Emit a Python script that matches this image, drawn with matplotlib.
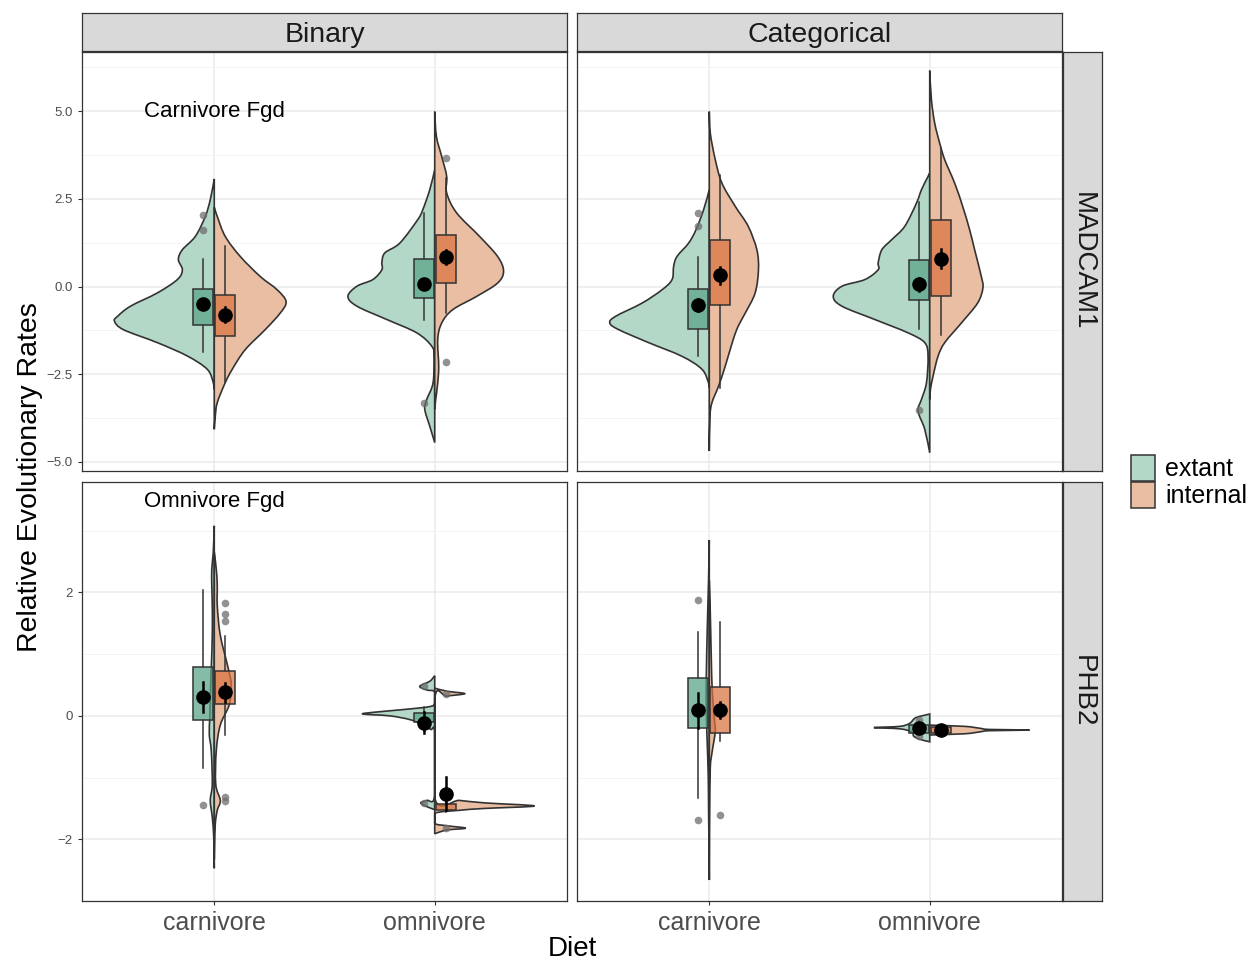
import numpy as np
import matplotlib.pyplot as plt
from matplotlib.path import Path
from matplotlib.patches import PathPatch, Rectangle

plt.rcParams['font.family'] = ['Liberation Sans', 'DejaVu Sans']

diets = ['carnivore', 'omnivore']
methods = ['Binary', 'Categorical']
genes = ['MADCAM1', 'PHB2']
groups = ['extant', 'internal']

# ---- violin profiles: y value and relative density ----
# MADCAM1 / Binary
mad_bin_carn_ext_y = [3.07, 2.48, 2.00, 1.43, 1.05, 0.77, 0.48, 0.20, -0.18, -0.56, -0.85, -0.99, -1.23, -1.60, -1.98, -2.36, -2.74, -2.93]
mad_bin_carn_ext_d = [0, .04, .09, .19, .32, .36, .32, .37, .57, .84, .97, 1.00, .91, .57, .27, .07, .01, 0]
mad_bin_carn_int_y = [2.26, 2.00, 1.43, 0.86, 0.29, -0.09, -0.43, -0.76, -1.23, -1.80, -2.36, -2.74, -3.31, -3.70, -4.07]
mad_bin_carn_int_d = [0, .03, .11, .26, .46, .63, .72, .66, .51, .31, .18, .11, .03, .01, 0]
mad_bin_omni_ext_y = [3.33, 2.76, 2.19, 1.91, 1.24, 0.96, 0.68, 0.48, 0.20, 0.01, -0.28, -0.56, -0.94, -1.32, -1.70, -1.99, -2.75, -3.22, -3.50, -3.98, -4.45]
mad_bin_omni_ext_d = [0, .05, .12, .17, .35, .50, .53, .53, .62, .78, .87, .78, .48, .18, .03, .007, .017, .08, .10, .05, 0]
mad_bin_omni_int_y = [4.99, 4.28, 3.71, 3.14, 2.67, 2.10, 1.43, 0.86, 0.44, 0.10, -0.28, -0.66, -1.04, -1.51, -2.27, -2.75, -3.22, -3.50]
mad_bin_omni_int_d = [0, .017, .07, .12, .12, .22, .45, .63, .69, .63, .42, .18, .07, .03, .04, .03, .01, 0]

# MADCAM1 / Categorical
mad_cat_carn_ext_y = [2.76, 2.19, 1.62, 1.24, 0.86, 0.58, 0.20, -0.09, -0.47, -0.85, -1.04, -1.23, -1.60, -1.99, -2.36, -2.75, -2.88]
mad_cat_carn_ext_d = [0, .057, .133, .207, .323, .357, .373, .473, .673, .94, .997, .907, .607, .273, .073, .007, 0]
mad_cat_carn_int_y = [4.99, 4.38, 3.62, 2.95, 2.29, 1.72, 1.05, 0.48, -0.18, -0.76, -1.13, -1.51, -2.27, -2.84, -3.31, -3.70, -4.69]
mad_cat_carn_int_d = [0, .01, .06, .127, .26, .39, .477, .493, .46, .36, .29, .24, .16, .093, .027, .007, 0]
mad_cat_omni_ext_y = [3.24, 3.14, 2.76, 2.38, 1.72, 1.34, 1.05, 0.67, 0.48, 0.20, 0.01, -0.28, -0.56, -0.94, -1.32, -1.60, -1.99, -2.75, -3.22, -3.55, -4.07, -4.74]
mad_cat_omni_ext_d = [0, .017, .083, .133, .25, .38, .48, .517, .517, .65, .88, .967, .88, .55, .217, .05, .017, .033, .083, .117, .05, 0]
mad_cat_omni_int_y = [6.16, 5.33, 4.66, 4.09, 3.62, 2.95, 2.29, 1.62, 1.05, 0.29, -0.04, -0.47, -1.04, -1.60, -1.99, -2.56, -2.94, -3.22]
mad_cat_omni_int_d = [0, .017, .05, .10, .15, .25, .33, .40, .45, .517, .533, .48, .317, .15, .083, .033, .007, 0]

# PHB2 / Binary
phb_bin_carn_ext_y = [3.08, 2.65, 2.38, 2.11, 1.79, 1.31, 0.77, 0.34, -0.03, -0.30, -0.57, -1.11, -1.37, -1.64, -1.91, -2.17, -2.47]
phb_bin_carn_ext_d = [0, .01, .025, .025, .02, .02, .03, .04, .045, .05, .03, .02, .04, .02, .007, .003, 0]
phb_bin_carn_int_y = [2.65, 2.38, 2.11, 1.79, 1.31, 0.77, 0.50, 0.18, -0.15, -0.57, -1.11, -1.37, -1.53, -1.75, -2.07, -2.33]
phb_bin_carn_int_d = [0, .02, .03, .03, .06, .14, .17, .15, .06, .02, .015, .06, .03, .01, .003, 0]
phb_bin_omni_ext_y = [0.65, 0.56, 0.48, 0.42, 0.39, 0.21, 0.15, 0.10, 0.06, 0.03, 0.00, -0.06, -0.14, -0.22, -0.27, -1.29, -1.37, -1.41, -1.47, -1.52]
phb_bin_omni_ext_d = [0, .05, .15, .08, 0, 0, .05, .33, .60, .72, .45, .25, .12, .04, 0, 0, .08, .14, .08, 0]
phb_bin_omni_int_y = [0.45, 0.40, 0.36, 0.32, 0.28, -1.33, -1.37, -1.41, -1.46, -1.50, -1.53, -1.58, -1.74, -1.78, -1.82, -1.85, -1.91]
phb_bin_omni_int_d = [0, .12, .30, .12, 0, 0, .25, .50, 1.00, .50, .25, 0, 0, .12, .31, .12, 0]

# PHB2 / Categorical
phb_cat_carn_ext_y = [2.85, 2.22, 1.42, 0.61, 0.08, -0.46, -1.00, -1.53, -2.07, -2.66]
phb_cat_carn_ext_d = [0, .007, .02, .03, .03, .02, .01, .007, .003, 0]
phb_cat_carn_int_y = [2.20, 1.68, 0.95, 0.40, -0.03, -0.25, -0.57, -0.84, -1.53, -2.07, -2.66]
phb_cat_carn_int_d = [0, .01, .02, .03, .05, .06, .03, .01, .003, .001, 0]
phb_cat_omni_ext_y = [0.03, -0.03, -0.12, -0.17, -0.19, -0.21, -0.26, -0.33, -0.38, -0.42]
phb_cat_omni_ext_d = [0, .14, .20, .30, .56, .30, .18, .16, .10, 0]
phb_cat_omni_int_y = [-0.15, -0.17, -0.20, -0.22, -0.23, -0.24, -0.26, -0.29, -0.31]
phb_cat_omni_int_d = [0, .35, .50, .60, 1.00, .60, .50, .35, 0]

# ---- box / mean summaries, order: carn-extant, carn-internal, omni-extant, omni-internal ----
mad_bin_lo = [-1.87, -2.73, -0.94, -0.75]
mad_bin_q1 = [-1.11, -1.40, -0.32, 0.10]
mad_bin_q3 = [-0.07, -0.25, 0.78, 1.47]
mad_bin_hi = [0.79, 1.15, 2.10, 3.11]
mad_bin_mean = [-0.49, -0.80, 0.08, 0.84]
mad_bin_se = [0.14, 0.22, 0.14, 0.20]
mad_bin_out = [[2.03, 1.62], [], [-3.33], [3.66, -2.15]]

mad_cat_lo = [-1.99, -2.88, -1.21, -1.37]
mad_cat_q1 = [-1.21, -0.53, -0.39, -0.28]
mad_cat_q3 = [-0.06, 1.32, 0.76, 1.89]
mad_cat_hi = [0.84, 3.19, 2.40, 3.95]
mad_cat_mean = [-0.53, 0.32, 0.06, 0.80]
mad_cat_se = [0.17, 0.24, 0.19, 0.28]
mad_cat_out = [[2.10, 1.72], [], [-3.53], []]

phb_bin_lo = [-0.84, -0.31, -0.25, -1.56]
phb_bin_q1 = [-0.07, 0.19, -0.10, -1.52]
phb_bin_q3 = [0.79, 0.72, 0.04, -1.43]
phb_bin_hi = [2.04, 1.29, 0.15, -1.36]
phb_bin_mean = [0.31, 0.38, -0.11, -1.26]
phb_bin_se = [0.24, 0.15, 0.17, 0.27]
phb_bin_out = [[-1.45], [1.83, 1.65, 1.53, -1.32, -1.38], [0.48, -1.41], [0.36, -1.82]]

phb_cat_lo = [-1.33, -0.41, -0.30, -0.29]
phb_cat_q1 = [-0.19, -0.27, -0.27, -0.28]
phb_cat_q3 = [0.61, 0.46, -0.14, -0.18]
phb_cat_hi = [1.36, 1.52, -0.08, -0.15]
phb_cat_mean = [0.09, 0.09, -0.20, -0.23]
phb_cat_se = [0.28, 0.13, 0.03, 0.02]
phb_cat_out = [[1.87, -1.68], [-1.61], [-0.06, -0.33], []]

note_text = ['Carnivore Fgd', 'Omnivore Fgd']
note_y = [5.0, 3.47]

# tables built from the lists above
violins = {
    ('MADCAM1', 'Binary'): [(mad_bin_carn_ext_y, mad_bin_carn_ext_d), (mad_bin_carn_int_y, mad_bin_carn_int_d),
                            (mad_bin_omni_ext_y, mad_bin_omni_ext_d), (mad_bin_omni_int_y, mad_bin_omni_int_d)],
    ('MADCAM1', 'Categorical'): [(mad_cat_carn_ext_y, mad_cat_carn_ext_d), (mad_cat_carn_int_y, mad_cat_carn_int_d),
                                 (mad_cat_omni_ext_y, mad_cat_omni_ext_d), (mad_cat_omni_int_y, mad_cat_omni_int_d)],
    ('PHB2', 'Binary'): [(phb_bin_carn_ext_y, phb_bin_carn_ext_d), (phb_bin_carn_int_y, phb_bin_carn_int_d),
                         (phb_bin_omni_ext_y, phb_bin_omni_ext_d), (phb_bin_omni_int_y, phb_bin_omni_int_d)],
    ('PHB2', 'Categorical'): [(phb_cat_carn_ext_y, phb_cat_carn_ext_d), (phb_cat_carn_int_y, phb_cat_carn_int_d),
                              (phb_cat_omni_ext_y, phb_cat_omni_ext_d), (phb_cat_omni_int_y, phb_cat_omni_int_d)],
}
boxes = {
    ('MADCAM1', 'Binary'): (mad_bin_lo, mad_bin_q1, mad_bin_q3, mad_bin_hi, mad_bin_mean, mad_bin_se, mad_bin_out),
    ('MADCAM1', 'Categorical'): (mad_cat_lo, mad_cat_q1, mad_cat_q3, mad_cat_hi, mad_cat_mean, mad_cat_se, mad_cat_out),
    ('PHB2', 'Binary'): (phb_bin_lo, phb_bin_q1, phb_bin_q3, phb_bin_hi, phb_bin_mean, phb_bin_se, phb_bin_out),
    ('PHB2', 'Categorical'): (phb_cat_lo, phb_cat_q1, phb_cat_q3, phb_cat_hi, phb_cat_mean, phb_cat_se, phb_cat_out),
}

# styles
violin_col = ['#B4D8C8', '#EABEA3']
box_col = ['#56A385', '#D8723F']
edge = '#333333'
VSCALE = 0.4525   # density -> x units
BOX_W = 0.09
BOX_OFF = 0.05

W, H = 1255, 965
fig = plt.figure(figsize=(W / 100, H / 100), dpi=100)


def px_rect(x, y, w, h):
    return [x / W, 1 - (y + h) / H, w / W, h / H]


def half_violin(ax, xc, ys, ds, side, fc):
    ys = np.asarray(ys, float)
    ws = np.asarray(ds, float) * VSCALE * side
    pts = np.column_stack([xc + ws, ys])
    n = len(pts)
    verts = [pts[0]]
    codes = [Path.MOVETO]
    for i in range(n - 1):
        p0, p1, p2, p3 = pts[max(i - 1, 0)], pts[i], pts[i + 1], pts[min(i + 2, n - 1)]
        c1 = p1 + (p2 - p0) / 6
        c2 = p2 - (p3 - p1) / 6
        for c in (c1, c2):
            if side * (c[0] - xc) < 0:
                c[0] = xc
        verts += [c1, c2, p2]
        codes += [Path.CURVE4] * 3
    verts += [pts[0], pts[0]]
    codes += [Path.LINETO, Path.CLOSEPOLY]
    ax.add_patch(PathPatch(Path(verts, codes), facecolor=fc, edgecolor=edge, lw=1.2, zorder=2))


panel_x = [82, 577]
panel_y = [52, 482]
ylims = {'MADCAM1': (-5.26, 6.69), 'PHB2': (-2.94, 3.79)}
yticks = {'MADCAM1': [-5, -2.5, 0, 2.5, 5], 'PHB2': [-2, 0, 2]}
yminor = {'MADCAM1': [-3.75, -1.25, 1.25, 3.75, 6.25], 'PHB2': [-3, -1, 1, 3]}
ylabels = {'MADCAM1': ['\u22125.0', '\u22122.5', '0.0', '2.5', '5.0'], 'PHB2': ['\u22122', '0', '2']}

for r, gene in enumerate(genes):
    for c, meth in enumerate(methods):
        ax = fig.add_axes(px_rect(panel_x[c], panel_y[r], 485, 419))
        ax.set_xlim(0.4, 2.6)
        ax.set_ylim(*ylims[gene])
        ax.set_xticks([1, 2])
        ax.set_yticks(yticks[gene])
        ax.set_yticks(yminor[gene], minor=True)
        ax.set_axisbelow(True)
        ax.grid(which='major', color='#EBEBEB', lw=1.1)
        ax.grid(which='minor', axis='y', color='#F4F4F4', lw=0.7)
        for s in ax.spines.values():
            s.set_color(edge)
            s.set_linewidth(0.9)
        ax.tick_params(which='minor', length=0)
        ax.tick_params(which='major', length=3, color=edge, width=0.8, labelcolor='#4D4D4D')
        if c == 0:
            ax.set_yticklabels(ylabels[gene], fontsize=9.5)
        else:
            ax.tick_params(axis='y', length=0, labelleft=False)
        if r == 1:
            ax.set_xticklabels(diets, fontsize=18)
            ax.tick_params(axis='x', pad=4.5)
        else:
            ax.tick_params(axis='x', length=0, labelbottom=False)

        profs = violins[(gene, meth)]
        lo, q1, q3, hi, mean, se, outs = boxes[(gene, meth)]
        for k in range(4):
            di, gi = divmod(k, 2)
            xc = di + 1
            side = -1 if gi == 0 else 1
            half_violin(ax, xc, profs[k][0], profs[k][1], side, violin_col[gi])
            bx = xc + side * BOX_OFF
            ax.plot([bx, bx], [lo[k], q1[k]], color=edge, lw=1.1, zorder=2.8)
            ax.plot([bx, bx], [q3[k], hi[k]], color=edge, lw=1.1, zorder=2.8)
            ax.add_patch(Rectangle((bx - BOX_W / 2, q1[k]), BOX_W, q3[k] - q1[k],
                                   facecolor=box_col[gi], alpha=0.72, edgecolor='none', zorder=3))
            ax.add_patch(Rectangle((bx - BOX_W / 2, q1[k]), BOX_W, q3[k] - q1[k],
                                   facecolor='none', edgecolor=edge, lw=1.1, zorder=3.1))
            if outs[k]:
                ax.plot([bx] * len(outs[k]), outs[k], 'o', color='#6E6E6E', alpha=0.75,
                        ms=5.5, mec='none', zorder=4)
            ax.plot([bx, bx], [mean[k] - se[k], mean[k] + se[k]], color='black', lw=1.8, zorder=5)
            ax.plot([bx], [mean[k]], 'o', color='black', ms=9.5, zorder=5)

        if c == 0:
            ax.text(1, note_y[r], note_text[r], ha='center', va='center', fontsize=16, zorder=6)

# strips
for c, meth in enumerate(methods):
    sax = fig.add_axes(px_rect(panel_x[c], 13, 485, 38))
    sax.set_facecolor('#D9D9D9')
    sax.set_xticks([])
    sax.set_yticks([])
    for s in sax.spines.values():
        s.set_color(edge)
        s.set_linewidth(0.9)
    sax.text(0.5, 0.42, meth, ha='center', va='center', fontsize=20.5, color='#1A1A1A', transform=sax.transAxes)
for r, gene in enumerate(genes):
    sax = fig.add_axes(px_rect(1063, panel_y[r], 39, 419))
    sax.set_facecolor('#D9D9D9')
    sax.set_xticks([])
    sax.set_yticks([])
    for s in sax.spines.values():
        s.set_color(edge)
        s.set_linewidth(0.9)
    sax.text(0.5, 0.5, gene, ha='center', va='center', rotation=-90, fontsize=20, color='#1A1A1A',
             transform=sax.transAxes)

# axis titles
fig.text(572 / W, 1 - 949 / H, 'Diet', ha='center', va='center', fontsize=20)
fig.text(30 / W, 1 - 477 / H, 'Relative Evolutionary Rates', ha='center', va='center',
         rotation=90, fontsize=20.5)

# legend
for i, g in enumerate(groups):
    y0 = 455 + i * 27
    fig.patches.append(Rectangle((1131 / W, 1 - (y0 + 26) / H), 24 / W, 26 / H, transform=fig.transFigure,
                                 facecolor=violin_col[i], edgecolor=edge, lw=1.1))
    fig.text(1165 / W, 1 - (y0 + 14) / H, g, ha='left', va='center', fontsize=18)

fig.savefig('out.png', dpi=100)
